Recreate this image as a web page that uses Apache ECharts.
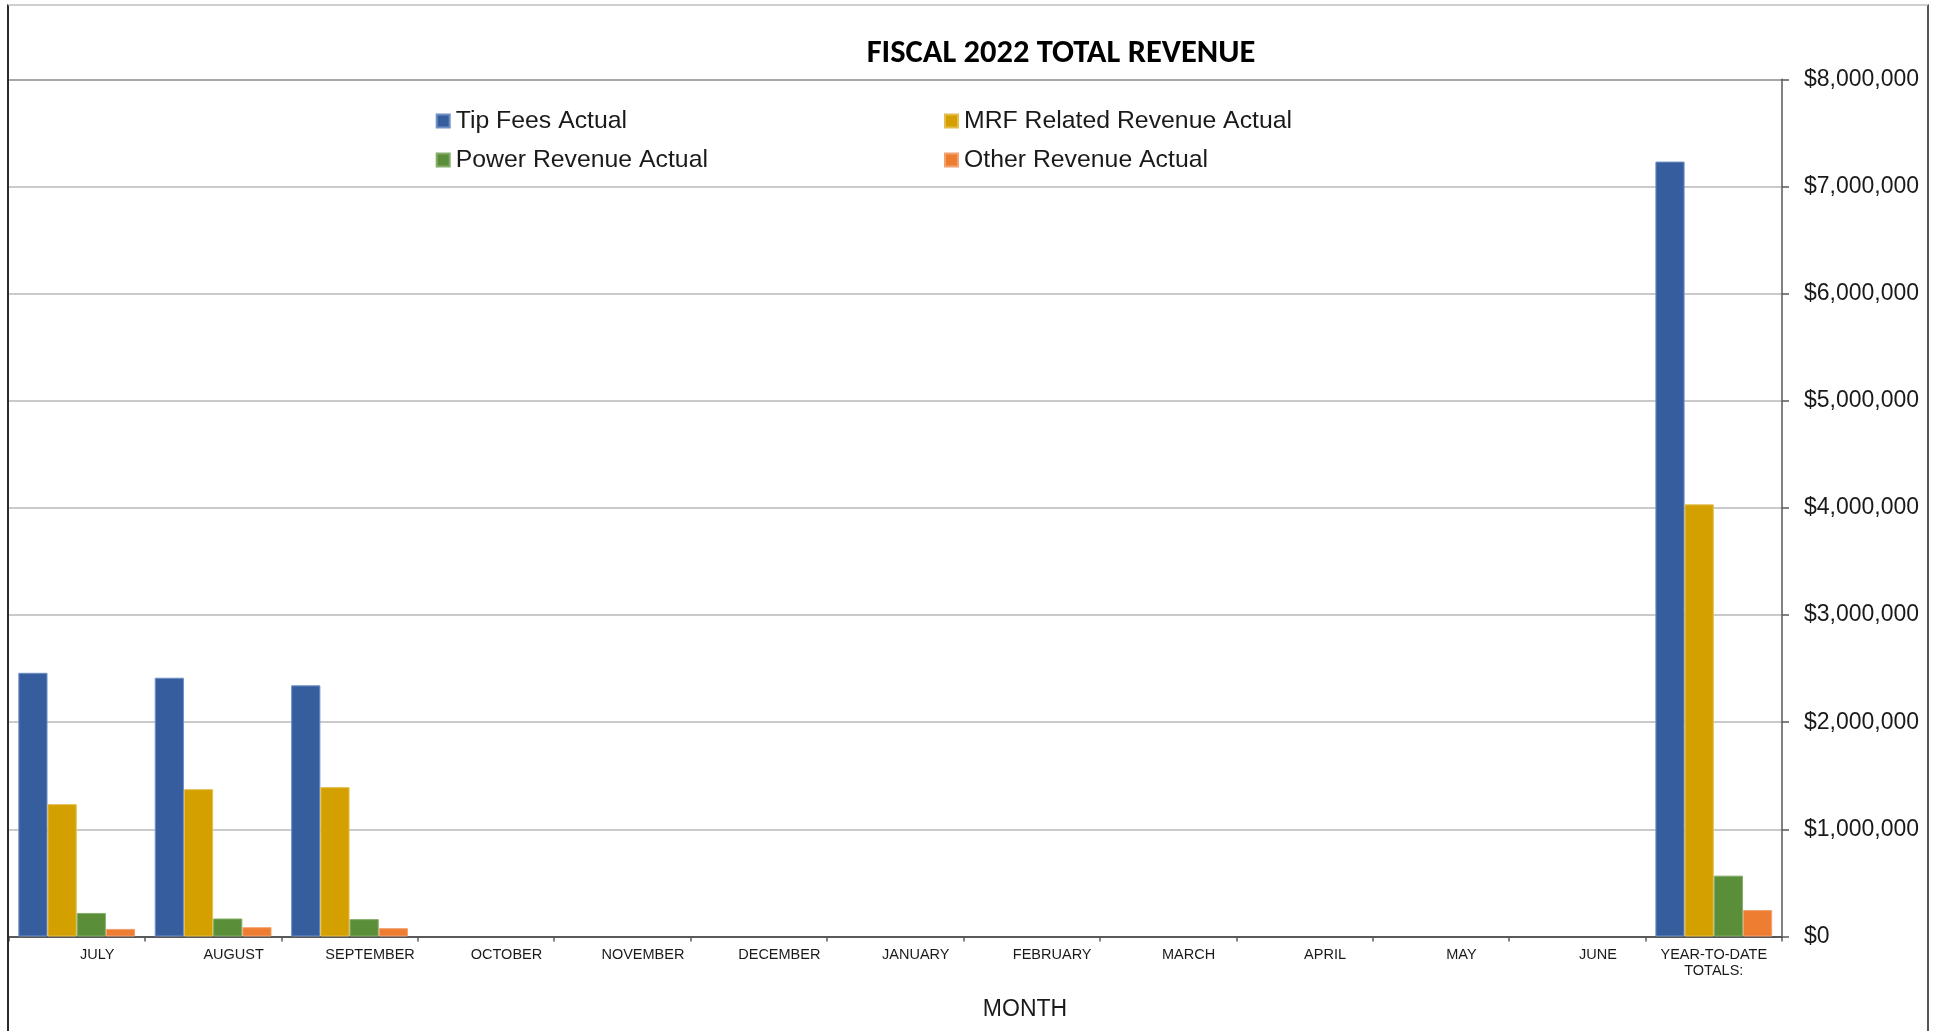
<!DOCTYPE html>
<html>
<head>
<meta charset="utf-8">
<script src="https://cdn.jsdelivr.net/npm/echarts@6/dist/echarts.min.js"></script>
<style>
  html, body { margin: 0; padding: 0; background: #ffffff; }
  #chart { position: absolute; left: 0; top: 0; width: 1940px; height: 1031px; }
  #frame { position: absolute; left: 7px; top: 4px; width: 1918px; height: 1100px;
           border-top: 2px solid #cfcfcf; border-left: 2px solid #2a2a2a; border-right: 2px solid #555555;
           pointer-events: none; }
</style>
</head>
<body>
<div id="chart"></div>
<div id="frame"></div>
<script>
// ---- data ----
const categories = ['JULY', 'AUGUST', 'SEPTEMBER', 'OCTOBER', 'NOVEMBER', 'DECEMBER', 'JANUARY',
  'FEBRUARY', 'MARCH', 'APRIL', 'MAY', 'JUNE', 'YEAR-TO-DATE\nTOTALS:'];
const tipFeesActual = [2461000, 2415000, 2344000, null, null, null, null, null, null, null, null, null, 7232000];
const mrfRelatedRevenueActual = [1235000, 1375000, 1394000, null, null, null, null, null, null, null, null, null, 4033000];
const powerRevenueActual = [220000, 168000, 162000, null, null, null, null, null, null, null, null, null, 568000];
const otherRevenueActual = [71000, 87000, 78000, null, null, null, null, null, null, null, null, null, 247000];
const seriesNames = ['Tip Fees Actual', 'MRF Related Revenue Actual', 'Power Revenue Actual', 'Other Revenue Actual'];
const seriesColors = ['#365e9f', '#d4a000', '#5b8e38', '#ee7d32'];
const seriesBorders = ['#6f8fc6', '#e3bd4d', '#84ad69', '#f3a271'];
const yMin = 0, yMax = 8000000, yInterval = 1000000;

const FONT = '"Liberation Sans", Arial, sans-serif';
const TEXT = '#1a1a1a';

const chart = echarts.init(document.getElementById('chart'), null, { renderer: 'canvas' });

const seriesData = [tipFeesActual, mrfRelatedRevenueActual, powerRevenueActual, otherRevenueActual];

const legendBase = {
  orient: 'vertical', top: 108.5, padding: 0, icon: 'rect',
  itemWidth: 13, itemHeight: 13, itemGap: 14,
  textStyle: { fontFamily: FONT, fontSize: 24.8, lineHeight: 24, color: TEXT, padding: [0, 0, 0, 1] }
};

const option = {
  animation: false,
  backgroundColor: '#ffffff',
  title: [
    { text: 'FISCAL 2022 TOTAL REVENUE', left: 1061, top: 54, padding: 0,
      textAlign: 'center', textVerticalAlign: 'middle',
      textStyle: { fontFamily: '"Carlito", "Lato", "Liberation Sans", sans-serif', fontWeight: 'bold', fontSize: 32.5, color: '#000000' } },
    { text: 'MONTH', left: 1025, top: 1010, padding: 0,
      textAlign: 'center', textVerticalAlign: 'middle',
      textStyle: { fontFamily: FONT, fontWeight: 'normal', fontSize: 23, color: TEXT } }
  ],
  legend: [
    Object.assign({}, legendBase, { left: 435.7, data: [seriesNames[0], seriesNames[2]] }),
    Object.assign({}, legendBase, { left: 944, data: [seriesNames[1], seriesNames[3]] })
  ],
  grid: { left: 8.5, right: 158, top: 79.3, bottom: 94.5, containLabel: false, outerBoundsMode: 'none' },
  xAxis: {
    type: 'category',
    data: categories,
    boundaryGap: true,
    axisLine: { show: true, lineStyle: { color: '#595959', width: 2 } },
    axisTick: { show: true, interval: 0, length: 5, lineStyle: { color: '#595959', width: 1.5 } },
    axisLabel: {
      interval: 0, margin: 10,
      formatter: function (v) {
        if (v.indexOf('\n') >= 0) {
          return v.split('\n').map(function (s) { return '{y|' + s + '}'; }).join('\n');
        }
        return '{m|' + v + '}';
      },
      rich: {
        m: { fontFamily: FONT, fontSize: 14.5, lineHeight: 16, color: TEXT, padding: [0, 0, 0, 41] },
        y: { fontFamily: FONT, fontSize: 14.5, lineHeight: 16, color: TEXT }
      }
    },
    splitLine: { show: false }
  },
  yAxis: {
    type: 'value',
    position: 'right',
    min: yMin, max: yMax, interval: yInterval,
    axisLine: { show: true, lineStyle: { color: '#595959', width: 1.5 } },
    axisTick: { show: true, length: 7, lineStyle: { color: '#595959', width: 1.5 } },
    axisLabel: {
      margin: 22, fontFamily: FONT, fontSize: 23, color: TEXT,
      formatter: function (v) { return '$' + v.toLocaleString('en-US'); }
    },
    splitLine: {
      show: true,
      lineStyle: { color: ['#b8b8b8', '#b8b8b8', '#b8b8b8', '#b8b8b8', '#b8b8b8', '#b8b8b8', '#b8b8b8', '#b8b8b8', '#8a8a8a'], width: 1.5 }
    }
  },
  series: seriesNames.map(function (name, i) {
    return {
      name: name,
      type: 'bar',
      data: seriesData[i],
      barGap: '0%',
      barCategoryGap: '14.4%',
      itemStyle: { color: seriesColors[i], borderColor: seriesBorders[i], borderWidth: 1 },
      emphasis: { disabled: true }
    };
  })
};

chart.setOption(option);
</script>
</body>
</html>
